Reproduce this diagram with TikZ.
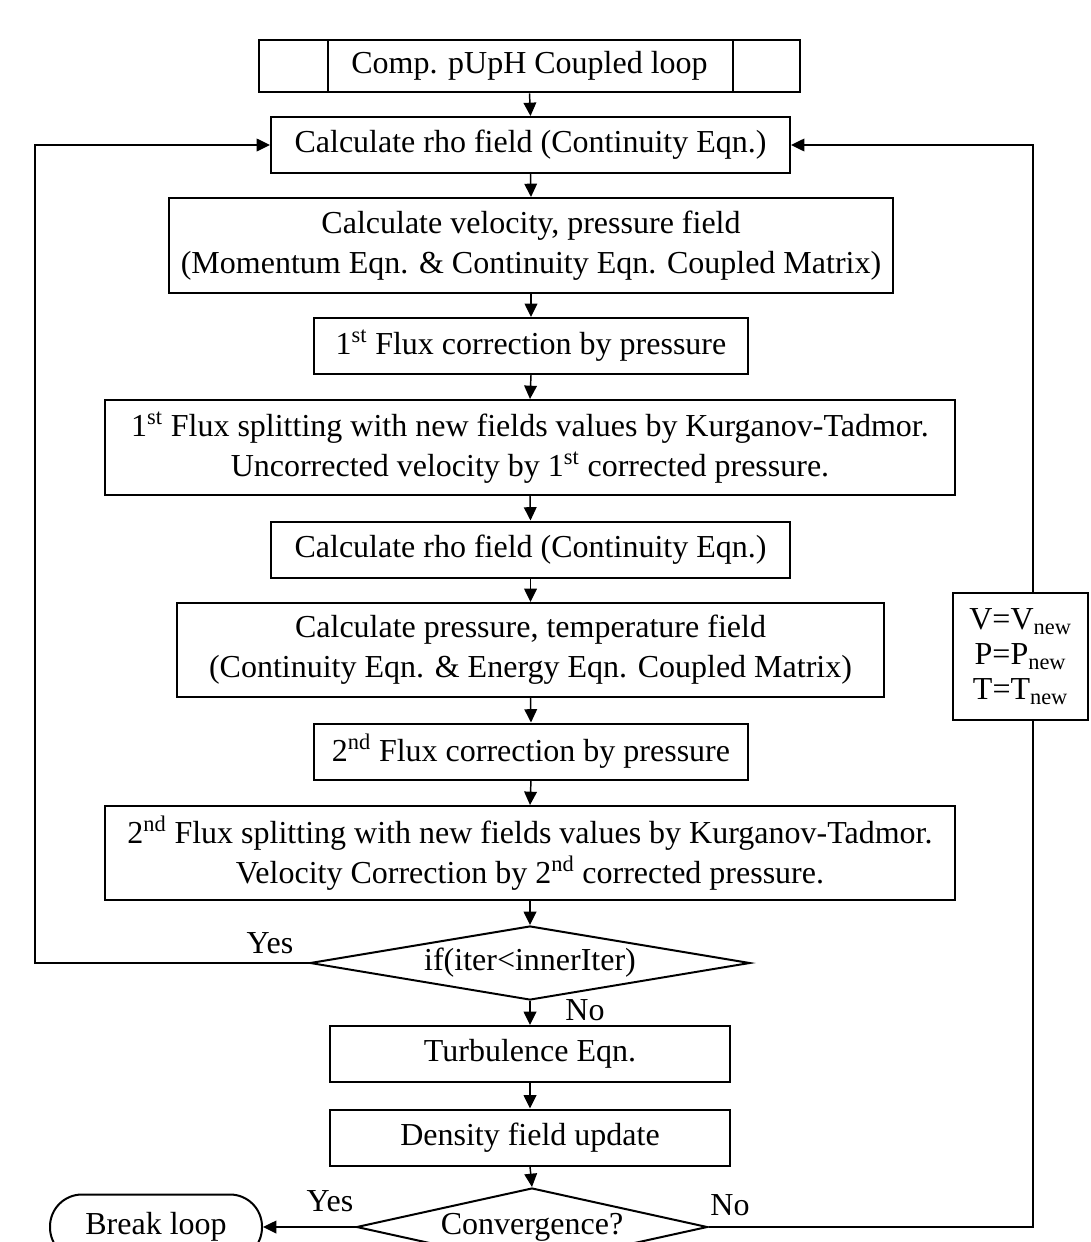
\documentclass[tikz,border=0pt]{standalone}
\usepackage{fontspec}
\setmainfont{Liberation Serif}
\usetikzlibrary{arrows.meta,shapes.geometric}
\begin{document}
\begin{tikzpicture}[x=.75pt,y=-.75pt,
  font=\fontsize{24}{30}\selectfont,
  box/.style={draw,line width=1.5pt,inner sep=0pt,align=center,minimum height=42pt},
  dec/.style={draw,diamond,line width=1.5pt,inner sep=0pt,aspect=6},
  arr/.style={line width=1.1pt,-{Triangle[length=10pt,width=9.5pt]}}]
  \clip (0,0) rectangle (1091,1242);
  % main column
  \node[box,line width=2.2pt,minimum width=405.75pt,minimum height=39pt] (top) at (529.5,66) {Comp. pUpH Coupled loop};
  \draw[line width=2pt] (328,40) -- (328,92) (733,40) -- (733,92);
  \node[box,minimum width=389.25pt] (rho1) at (530.5,145) {Calculate rho field (Continuity Eqn.)};
  \node[box,minimum width=543pt,minimum height=71.25pt] (mom) at (531,245.5)
    {Calculate velocity, pressure field\\(Momentum Eqn. \& Continuity Eqn. Coupled Matrix)};
  \node[box,minimum width=325.5pt] (corr1) at (531,346) {1\textsuperscript{st} Flux correction by pressure};
  \node[box,minimum width=637.5pt,minimum height=71.25pt] (split1) at (530,447.5)
    {1\textsuperscript{st} Flux splitting with new fields values by Kurganov-Tadmor.\\Uncorrected velocity by 1\textsuperscript{st} corrected pressure.};
  \node[box,minimum width=389.25pt] (rho2) at (530.5,549.5) {Calculate rho field (Continuity Eqn.)};
  \node[box,minimum width=530.25pt,minimum height=70.5pt] (ener) at (530.5,650)
    {Calculate pressure, temperature field\\(Continuity Eqn. \& Energy Eqn. Coupled Matrix)};
  \node[box,minimum width=325.5pt] (corr2) at (531,751.5) {2\textsuperscript{nd} Flux correction by pressure};
  \node[box,minimum width=637.5pt,minimum height=70.5pt] (split2) at (530,853)
    {2\textsuperscript{nd} Flux splitting with new fields values by Kurganov-Tadmor.\\Velocity Correction by 2\textsuperscript{nd} corrected pressure.};
  \node[dec,minimum width=330pt,minimum height=55.5pt] (iter) at (530,963) {if(iter<innerIter)};
  \node[box,minimum width=300pt] (turb) at (530,1054) {Turbulence Eqn.};
  \node[box,minimum width=300pt] (dens) at (530,1137.5) {Density field update};
  \node[dec,minimum width=261pt,minimum height=58.5pt] (conv) at (532,1227) {Convergence?};
  \node[box,rounded corners=24pt,minimum width=159pt,minimum height=48.75pt] (brk) at (156,1227) {Break loop};
  % labels
  \node (yes1) at (270,943) {Yes};
  \node (no1) at (585,1010) {No};
  \node (yes2) at (330,1201) {Yes};
  \node (no2) at (730,1205) {No};
  % connectors
  \foreach \a/\b in {top/rho1,rho1/mom,mom/corr1,corr1/split1,split1/rho2,rho2/ener,
                     ener/corr2,corr2/split2,split2/iter,iter/turb,turb/dens,dens/conv}
    \draw[arr] (\a.south) -- (\b.north);
  \coordinate (lft) at (35,145);
  \coordinate (rgt) at (1033,145);
  \draw[arr] (iter.west) -| (lft) -- (rho1.west);
  \draw[arr] (conv.east) -| (rgt) -- (rho1.east);
  \draw[arr] (conv.west) -- (brk.east);
  \node[box,fill=white,minimum width=101.25pt,minimum height=95.25pt,
    font=\fontsize{24}{26}\selectfont] (upd) at (1020.5,656.5)
    {V=V\textsubscript{new}\\P=P\textsubscript{new}\\T=T\textsubscript{new}};
\end{tikzpicture}
\end{document}
